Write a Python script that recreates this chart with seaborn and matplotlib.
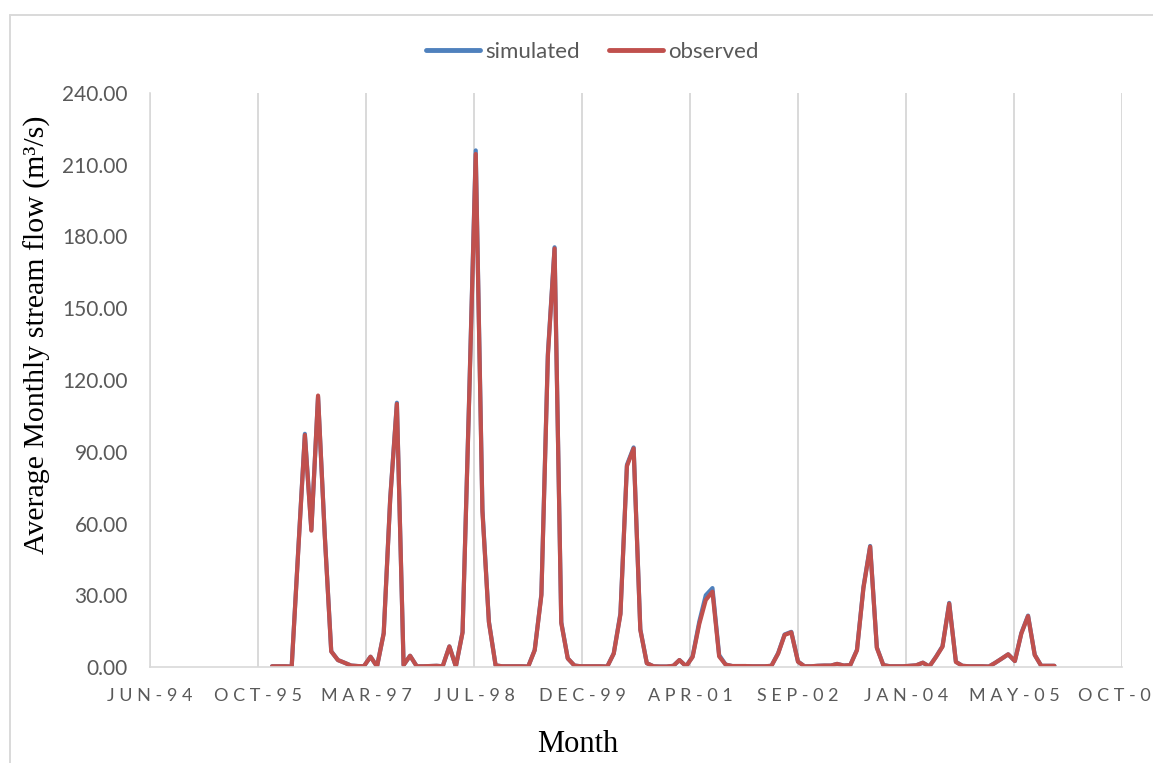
import matplotlib
matplotlib.use("Agg")
import matplotlib.pyplot as plt
from matplotlib.lines import Line2D
import pandas as pd
import seaborn as sns

# Monthly stream flow, Jan 1996 - Dec 2005 (m3/s)
months = pd.date_range("1996-01-01", "2005-12-01", freq="MS")

observed = [
    0.3, 0.3, 0.3, 0.2, 48.0, 97.0, 57.0, 113.5, 55.0, 6.5, 2.9, 1.8,      # 1996
    0.6, 0.4, 0.3, 4.3, 0.2, 14.0, 70.0, 110.0, 0.8, 4.7, 0.3, 0.3,        # 1997
    0.4, 0.5, 0.3, 8.6, 0.2, 14.4, 110.0, 214.5, 65.0, 18.7, 0.7, 0.3,     # 1998
    0.3, 0.3, 0.3, 0.2, 7.0, 30.0, 130.0, 175.0, 18.4, 3.6, 0.6, 0.3,      # 1999
    0.3, 0.3, 0.3, 0.2, 5.6, 22.0, 84.0, 91.4, 15.5, 1.6, 0.3, 0.2,        # 2000
    0.2, 0.5, 2.9, 0.3, 4.2, 18.0, 28.0, 31.5, 4.4, 1.0, 0.4, 0.4,         # 2001
    0.4, 0.3, 0.3, 0.3, 0.5, 5.6, 13.4, 14.5, 2.2, 0.3, 0.3, 0.5,          # 2002
    0.6, 0.6, 1.3, 0.6, 0.8, 7.0, 33.0, 50.3, 8.0, 0.8, 0.3, 0.3,          # 2003
    0.3, 0.5, 0.7, 1.8, 0.2, 4.2, 8.5, 26.5, 2.1, 0.5, 0.3, 0.3,           # 2004
    0.3, 0.2, 1.7, 3.5, 5.3, 2.5, 14.0, 21.3, 5.0, 0.5, 0.5, 0.5,          # 2005
]

simulated = [
    0.3, 0.3, 0.3, 0.2, 48.5, 97.5, 57.5, 113.0, 55.5, 6.6, 2.9, 1.8,
    0.6, 0.4, 0.3, 4.3, 0.2, 14.2, 70.5, 110.5, 0.8, 4.7, 0.3, 0.3,
    0.4, 0.5, 0.3, 8.6, 0.2, 14.6, 111.0, 216.0, 66.0, 19.0, 0.7, 0.3,
    0.3, 0.3, 0.3, 0.2, 7.1, 30.5, 131.0, 175.5, 18.8, 3.6, 0.6, 0.3,
    0.3, 0.3, 0.3, 0.2, 5.7, 22.5, 84.5, 91.8, 15.8, 1.6, 0.3, 0.2,
    0.2, 0.5, 2.9, 0.3, 4.4, 19.0, 30.0, 33.0, 5.0, 1.0, 0.4, 0.4,
    0.4, 0.3, 0.3, 0.3, 0.5, 5.8, 13.6, 14.7, 2.3, 0.3, 0.3, 0.5,
    0.6, 0.6, 1.3, 0.6, 0.8, 7.2, 33.5, 50.6, 8.2, 0.8, 0.3, 0.3,
    0.3, 0.5, 0.7, 1.8, 0.2, 4.3, 8.7, 26.8, 2.2, 0.5, 0.3, 0.3,
    0.3, 0.2, 1.7, 3.5, 5.3, 2.5, 14.2, 21.5, 5.1, 0.5, 0.5, 0.5,
]

x_tick_labels = ["JUN-94", "OCT-95", "MAR-97", "JUL-98", "DEC-99",
                 "APR-01", "SEP-02", "JAN-04", "MAY-05", "OCT-06"]
y_ticks = [0, 30, 60, 90, 120, 150, 180, 210, 240]

BLUE = "#4F81BD"
RED = "#C0504D"
GRID = "#D9D9D9"
TEXT = "#595959"

sns.set_theme(style="white")
plt.rcParams["font.family"] = ["Lato", "DejaVu Sans"]

W, H = 1153, 763
fig = plt.figure(figsize=(W / 100, H / 100), dpi=100)
ax = fig.add_axes([150 / W, 1 - 667 / H, (1122 - 150) / W, (667 - 93) / H])

df = pd.DataFrame({"Month": months, "simulated": simulated, "observed": observed})
long_df = df.melt("Month", var_name="series", value_name="flow")
sns.lineplot(data=long_df, x="Month", y="flow", hue="series",
             hue_order=["simulated", "observed"],
             palette={"simulated": BLUE, "observed": RED},
             linewidth=3.0, ax=ax, legend=False)
for ln in ax.lines:
    ln.set_solid_capstyle("round")
    ln.set_solid_joinstyle("round")

# date axis: one major unit every 500 days
start = pd.Timestamp("1994-06-15")
x_ticks = [start + pd.Timedelta(days=500 * k) for k in range(len(x_tick_labels))]
ax.set_xlim(x_ticks[0], x_ticks[-1])
ax.set_xticks(x_ticks)
ax.set_xticklabels([" ".join(lbl) for lbl in x_tick_labels])

ax.set_ylim(0, 240)
ax.set_yticks(y_ticks)
ax.set_yticklabels([f"{v:.2f}" for v in y_ticks])

ax.set_xlabel("")
ax.set_ylabel("")
ax.grid(axis="x", color=GRID, linewidth=1.4)
ax.grid(axis="y", visible=False)
for side in ("top", "right"):
    ax.spines[side].set_visible(False)
for side in ("left", "bottom"):
    ax.spines[side].set_color(GRID)
    ax.spines[side].set_linewidth(1.2)
ax.tick_params(axis="both", length=0, labelcolor=TEXT)
ax.tick_params(axis="y", pad=16, labelsize=15)
ax.tick_params(axis="x", pad=15, labelsize=13)

fig.text(37 / W, 1 - 335 / H, "Average Monthly stream flow (m\u00b3/s)",
         rotation=90, ha="center", va="center",
         family="Liberation Serif", fontsize=21.5, color="black")
fig.text(578 / W, 1 - 744 / H, "Month", ha="center", va="center",
         family="Liberation Serif", fontsize=22, color="black")

handles = [Line2D([], [], color=BLUE, lw=3.5, solid_capstyle="round"),
           Line2D([], [], color=RED, lw=3.5, solid_capstyle="round")]
fig.legend(handles, ["simulated", "observed"], loc="center",
           bbox_to_anchor=(592 / W, 1 - 52 / H), ncol=2, frameon=False,
           fontsize=16, handlelength=2.45, handletextpad=0.22,
           columnspacing=1.3, labelcolor=TEXT)

# chart frame
fig.add_artist(Line2D([10 / W, 1.0], [1 - 15 / H, 1 - 15 / H],
                      transform=fig.transFigure, color=GRID, lw=1.4))
fig.add_artist(Line2D([10 / W, 10 / W], [0.0, 1 - 15 / H],
                      transform=fig.transFigure, color=GRID, lw=1.4))

fig.savefig("out.png", dpi=100)
